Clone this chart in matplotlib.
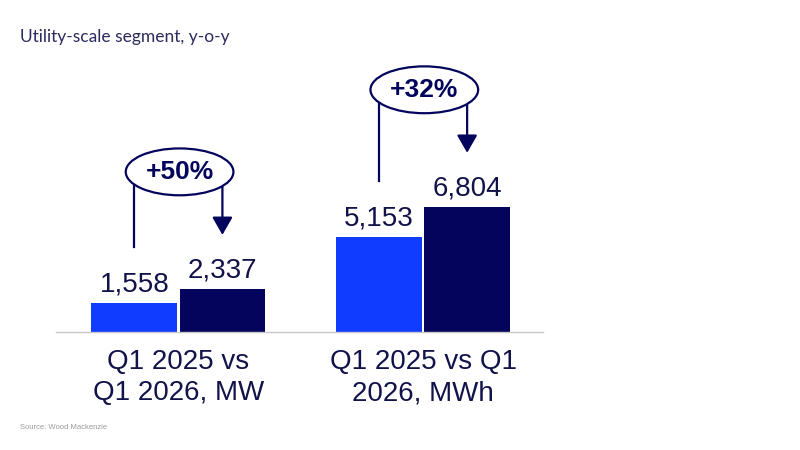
import numpy as np
import matplotlib
matplotlib.use("Agg")
import matplotlib.pyplot as plt
from matplotlib.patches import Ellipse

# ── Data ──────────────────────────────────────────────────────────────────────
categories = ["Q1 2025 vs\nQ1 2026, MW", "Q1 2025 vs Q1\n2026, MWh"]
q1_2025 = [1558, 5153]
q1_2026 = [2337, 6804]
growth_labels = ["+50%", "+32%"]

BLUE = "#0f3cff"
NAVY = "#04045c"
TEXT = "#12124a"

plt.rcParams["font.family"] = ["Liberation Sans", "DejaVu Sans"]

fig = plt.figure(figsize=(8, 4.5), dpi=100)
ax = fig.add_axes([0.07, 0.2622, 0.60875, 0.6124])

x = np.arange(len(categories))
off = 0.18
w = 0.35
ax.bar(x - off, q1_2025, width=w, color=BLUE, zorder=2)
ax.bar(x + off, q1_2026, width=w, color=NAVY, zorder=2)

for xi, a, b in zip(x, q1_2025, q1_2026):
    ax.annotate(f"{a:,}", (xi - off, a), xytext=(0, 8.5), textcoords="offset points",
                ha="center", va="baseline", fontsize=20, color=TEXT)
    ax.annotate(f"{b:,}", (xi + off, b), xytext=(0, 8.5), textcoords="offset points",
                ha="center", va="baseline", fontsize=20, color=TEXT)

# growth callouts: ellipse + line from old bar + arrow to new bar
for xi, a, b, g in zip(x, q1_2025, q1_2026, growth_labels):
    cy = b + 6380
    ax.plot([xi - off, xi - off], [cy, a + 3050], color=NAVY, lw=1.6, zorder=3)
    ax.annotate("", xy=(xi + off, b + 2950), xytext=(xi + off, cy),
                arrowprops=dict(arrowstyle="-|>,head_length=0.54,head_width=0.31",
                                mutation_scale=20, lw=1.6, color=NAVY,
                                shrinkA=0, shrinkB=0), zorder=3)
    ax.add_patch(Ellipse((xi + 0.005, cy), 0.44, 2550, facecolor="white",
                         edgecolor=NAVY, lw=1.6, zorder=4))
    ax.text(xi + 0.005, cy, g, ha="center", va="center", fontsize=19,
            fontweight="bold", color=NAVY, zorder=5)

ax.set_xlim(-0.5, 1.49)
ax.set_ylim(0, 15000)
ax.set_xticks(x, categories, fontsize=20, color=TEXT, linespacing=1.27)
ax.tick_params(axis="x", length=0, pad=12)
ax.set_yticks([])
for s in ["top", "right", "left"]:
    ax.spines[s].set_visible(False)
ax.spines["bottom"].set_color("#c8c8c8")
ax.spines["bottom"].set_linewidth(1.0)
ax.patch.set_alpha(0)

fig.text(0.025, 0.907, "Utility-scale segment, y-o-y", fontsize=12.5,
         color="#2b2b5e", family=["Lato", "DejaVu Sans"], va="baseline")
fig.text(0.025, 0.046, "Source: Wood Mackenzie", fontsize=5.5, color="#9a9a9a")

fig.savefig("out.png", dpi=100)
